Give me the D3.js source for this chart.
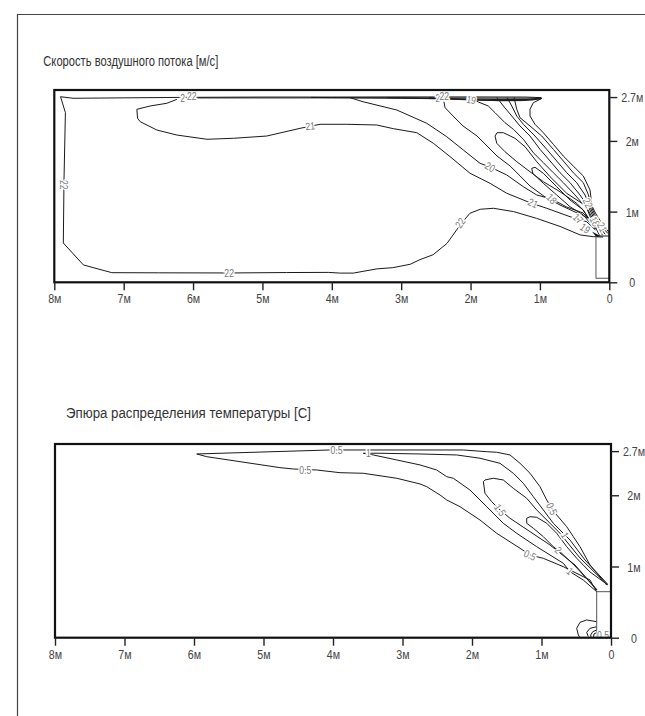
<!DOCTYPE html>
<html><head><meta charset="utf-8">
<script src="https://cdn.jsdelivr.net/npm/d3@7"></script>
<style>
html,body{margin:0;padding:0;background:#fff;}
svg{display:block;}
</style></head>
<body>
<script>
// ---------- axis data ----------
const xTicks = [8,7,6,5,4,3,2,1,0];
const xTickLabels = ["8м","7м","6м","5м","4м","3м","2м","1м","0"];
const yTicks = [0,1,2,2.62];
const yTickLabels = ["0","1м","2м","2.7м"];
const titles = ["Скорость воздушного потока [м/с]","Эпюра распределения температуры [С]"];

// ---------- air velocity contours [x m from wall, y m] ----------
const vel22 = [[0.09,0.64],[0.23,0.645],[0.42,0.67],[0.71,0.79],[1.05,0.905],[1.38,1.0],[1.67,1.047],[1.86,1.033],[2.01,0.976],[2.15,0.81],[2.34,0.55],[2.54,0.39],[2.73,0.32],[2.87,0.255],[3.12,0.207],[3.35,0.19],[3.69,0.13],[3.88,0.13],[4.05,0.14],[4.65,0.138],[5.48,0.132],[6.5,0.134],[7.17,0.136],[7.58,0.245],[7.87,0.556],[7.86,1.45],[7.84,2.40],[7.91,2.625],[7.73,2.603],[6.10,2.616],[5.0,2.62],[4.0,2.62],[3.0,2.622],[2.0,2.622],[1.2,2.62],[0.98,2.612]];
const vel21 = [[6.233,2.588],[6.378,2.532],[6.618,2.494],[6.81,2.447],[6.80,2.32],[6.762,2.272],[6.522,2.154],[6.233,2.083],[5.80,2.023],[5.418,2.037],[4.937,2.069],[4.457,2.178],[4.169,2.235],[3.784,2.235],[3.352,2.225],[3.112,2.173],[2.775,2.116],[2.536,1.966],[2.295,1.777],[2.007,1.542],[1.719,1.40],[1.478,1.259],[1.143,1.126],[0.902,1.047],[0.566,0.928],[0.326,0.857],[0.2,0.74]];
const vel20 = [[3.736,2.611],[3.549,2.554],[3.063,2.437],[2.631,2.249],[2.343,2.059],[2.104,1.871],[1.863,1.683],[1.719,1.631],[1.478,1.518],[1.239,1.352],[1.046,1.235],[0.83,1.178],[0.614,1.065],[0.379,0.98],[0.26,0.86],[0.2,0.75]];
const vel19a = [[2.396,2.614],[2.367,2.47],[2.252,2.352],[2.108,2.211],[1.906,2.069],[1.762,1.928],[1.618,1.786],[1.43,1.645],[1.286,1.504],[1.143,1.362],[0.927,1.207],[0.71,1.093],[0.494,0.994],[0.307,0.909],[0.2,0.76]];
const vel19 = [[1.978,2.592],[1.888,2.55],[1.744,2.494],[1.647,2.399],[1.503,2.257],[1.383,2.164],[1.239,2.023],[1.095,1.833],[0.951,1.692],[0.807,1.55],[0.663,1.409],[0.494,1.235],[0.307,1.023],[0.24,0.90],[0.18,0.74],[0.14,0.665]];
const vel18 = [[0.21,0.77],[0.379,1.023],[0.47,1.117],[0.71,1.281],[0.951,1.423],[1.143,1.564],[1.334,1.706],[1.503,1.847],[1.622,1.966],[1.647,2.069],[1.618,2.116],[1.527,2.116],[1.359,2.037],[1.215,1.918],[1.046,1.706],[0.854,1.494],[0.614,1.259],[0.336,1.079],[0.22,0.79]];
const vel17 = [[0.21,0.76],[0.375,0.952],[0.566,1.069],[0.758,1.235],[0.951,1.40],[1.104,1.542],[1.118,1.612],[1.071,1.627],[0.951,1.542],[0.758,1.352],[0.566,1.164],[0.375,1.023],[0.22,0.78]];
const velFanA = [[1.622,2.614],[1.527,2.494],[1.406,2.352],[1.287,2.211],[1.143,2.069],[0.999,1.881],[0.854,1.716],[0.71,1.55],[0.566,1.409],[0.422,1.235],[0.293,1.051],[0.23,0.92],[0.16,0.76],[0.10,0.67]];
const velFanB = [[1.474,2.614],[1.406,2.494],[1.334,2.352],[1.239,2.235],[1.071,2.069],[0.902,1.881],[0.758,1.716],[0.614,1.55],[0.47,1.409],[0.35,1.235],[0.278,1.065],[0.22,0.94],[0.14,0.78],[0.06,0.68]];
const velFanC = [[1.373,2.614],[1.334,2.447],[1.287,2.328],[1.143,2.211],[0.974,2.069],[0.807,1.881],[0.663,1.716],[0.519,1.55],[0.375,1.409],[0.30,1.235],[0.264,1.079],[0.21,0.96],[0.12,0.80],[0.02,0.69]];
const velFanD = [[0.974,2.60],[1.095,2.54],[1.143,2.447],[1.143,2.352],[1.071,2.235],[0.951,2.116],[0.807,1.952],[0.663,1.786],[0.519,1.645],[0.375,1.504],[0.278,1.306],[0.249,1.079],[0.20,0.98],[0.10,0.82],[0.0,0.70]];
const velBand0 = [[6.0,2.608],[4.5,2.608],[3.0,2.61],[2.0,2.606],[1.2,2.604],[0.98,2.606]];
const velBand1 = [[4.3,2.615],[3.0,2.603],[2.2,2.593],[1.6,2.585],[1.2,2.585],[0.98,2.605]];
const velBand2 = [[3.2,2.612],[2.4,2.595],[1.9,2.575],[1.4,2.572],[1.1,2.58],[0.98,2.6]];
const velBand3 = [[2.6,2.61],[2.0,2.585],[1.6,2.568],[1.25,2.57],[0.98,2.598]];
const velOutlet = [[0.192,0.655],[0.192,0.057],[0,0.057]];
const velOutletTop = [[0.192,0.655],[0,0.655]];
const velWedge = [[0.25,0.72],[0.13,0.655],[0.19,0.645]];
// labels: [x, y, text, angle]
const velLabels = [[5.48,0.132,"22",0],[7.86,1.38,"22",90],[2.15,0.84,"22",-55],[6.15,2.60,"2",0],[6.02,2.625,"22",0],
  [4.31,2.21,"21",-5],[1.72,1.63,"20",30],[1.10,1.12,"21",25],[0.83,1.18,"18",45],[2.47,2.60,"2",0],[2.38,2.625,"22",0],
  [1.99,2.58,"19",10],[0.31,1.12,"22",65],[0.21,0.86,"18",65],[0.105,0.78,"21",65],[0.45,0.90,"17",45],[0.35,0.76,"19",35]];

// ---------- temperature contours ----------
const t05 = [[0.206,0.646],[0.302,0.810],[0.686,0.997],[0.974,1.115],[1.165,1.161],[1.309,1.256],[1.645,1.466],[1.885,1.653],[2.173,1.840],[2.364,1.934],[2.460,2.004],[2.652,2.121],[2.748,2.159],[3.083,2.239],[3.564,2.309],[3.899,2.317],[4.235,2.355],[4.571,2.369],[4.763,2.388],[5.338,2.472],[5.817,2.542],[5.961,2.580],[4.043,2.636],[3.827,2.636],[2.125,2.636],[1.788,2.612],[1.645,2.604],[1.453,2.566],[1.309,2.449],[1.165,2.309],[1.022,2.121],[0.925,1.934],[0.853,1.817],[0.781,1.723],[0.637,1.559],[0.542,1.419],[0.446,1.278],[0.302,1.021],[0.062,0.740]];
const t1 = [[0.206,0.646],[0.399,0.810],[0.590,0.927],[0.686,1.045],[1.069,1.278],[1.357,1.466],[1.55,1.607],[1.788,1.840],[2.029,2.074],[2.269,2.239],[2.364,2.261],[2.508,2.355],[2.748,2.426],[3.083,2.496],[3.420,2.566],[3.564,2.590],[3.324,2.59],[2.748,2.580],[2.220,2.566],[1.885,2.520],[1.597,2.449],[1.406,2.309],[1.262,2.169],[1.118,1.980],[0.974,1.794],[0.830,1.607],[0.662,1.442],[0.590,1.372],[0.374,1.091],[0.05,0.754]];
const t15 = [[0.201,0.67],[0.518,1.021],[0.878,1.302],[1.165,1.489],[1.309,1.583],[1.453,1.677],[1.597,1.794],[1.717,1.910],[1.813,2.028],[1.837,2.191],[1.813,2.215],[1.694,2.239],[1.55,2.215],[1.406,2.098],[1.213,1.958],[1.069,1.794],[0.878,1.607],[0.734,1.466],[0.446,1.119],[0.058,0.747]];
const t2 = [[0.201,0.67],[0.518,1.007],[0.734,1.208],[0.830,1.278],[0.974,1.419],[1.118,1.537],[1.213,1.607],[1.213,1.677],[1.165,1.699],[1.069,1.691],[0.925,1.607],[0.781,1.466],[0.637,1.278],[0.493,1.115],[0.302,0.923],[0.043,0.740]];
const tLoop1 = [[0.206,0.225],[0.35,0.249],[0.446,0.216],[0.494,0.132],[0.47,0.038],[0.446,0.0]];
const tLoop2 = [[0.206,0.154],[0.302,0.132],[0.35,0.076],[0.327,0.017]];
const tLoop3 = [[0.206,0.108],[0.263,0.084],[0.292,0.038],[0.288,0.003]];
const tLoop4 = [[0.206,0.073],[0.245,0.052],[0.252,0.003]];
const tOutlet = [[0.206,0.01],[0.206,0.646],[0,0.646]];
const tLabels = [[3.95,2.63,"0.5",0],[3.49,2.585,"1",0],[4.40,2.355,"0.5",0],[1.597,1.794,"1.5",55],[0.853,1.81,"0.5",65],
  [0.662,1.44,"1",60],[1.165,1.16,"0.5",25],[0.76,1.23,"2",45],[0.59,0.935,"1",40],[0.115,0.04,"0.5",0]];

const W = 645, H = 716;
const svg = d3.select("body").append("svg").attr("width",W).attr("height",H);
const FONT = "'Liberation Sans','Arial',sans-serif";
const NARROW = 0.82;

// page border
svg.append("path").attr("d","M17.5,716 V14.5 H645").attr("fill","none").attr("stroke","#444").attr("stroke-width",1.2);

function txt(g, x, y, s, size, anchor, color, angle){
  return g.append("text")
    .attr("transform",`translate(${x},${y}) rotate(${angle||0}) scale(${NARROW},1)`)
    .attr("font-family",FONT).attr("font-size",size).attr("text-anchor",anchor).attr("fill",color).text(s);
}

function chart(cfg){
  const x = d3.scaleLinear().domain([8,0]).range([cfg.x0,cfg.x1]);
  const y = d3.scaleLinear().domain([0,2.72]).range([cfg.y0,cfg.y1]);
  const g = svg.append("g");
  g.append("text").attr("x",cfg.tx).attr("y",cfg.ty).attr("font-family",FONT).attr("font-size",14)
    .attr("fill","#333").attr("textLength",cfg.tw).attr("lengthAdjust","spacingAndGlyphs").text(cfg.title);
  const line = d3.line().x(d=>x(d[0])).y(d=>y(d[1]));
  const cg = g.append("g").attr("fill","none").attr("stroke","#1a1a1a").attr("stroke-width",1).attr("stroke-linejoin","round");
  cfg.lines.forEach(l=>cg.append("path").attr("d",line(l)));
  if(cfg.fills) cfg.fills.forEach(l=>g.append("path").attr("d",line(l)+"Z").attr("fill","#111"));
  if(cfg.grey) cfg.grey.forEach(l=>g.append("path").attr("d",line(l)).attr("fill","none").attr("stroke","#555").attr("stroke-width",1));
  const lg = g.append("g");
  cfg.labels.forEach(L=>{
    txt(lg, x(L[0]), y(L[1]), L[2], 10.5, "middle", "#777", L[3])
      .attr("dy","0.35em").attr("stroke","#fff").attr("stroke-width",3).attr("paint-order","stroke");
  });
  g.append("rect").attr("x",cfg.x0).attr("y",cfg.y1).attr("width",cfg.x1-cfg.x0).attr("height",cfg.y0-cfg.y1)
    .attr("fill","none").attr("stroke","#111").attr("stroke-width",2.2);
  const ax = g.append("g").attr("transform",`translate(0,${cfg.y0})`)
    .call(d3.axisBottom(x).tickValues(xTicks).tickFormat((d,i)=>xTickLabels[i]).tickSize(8).tickPadding(0));
  ax.select(".domain").remove();
  ax.selectAll(".tick line").attr("stroke","#222").attr("stroke-width",1.4);
  ax.selectAll(".tick text").remove();
  ax.selectAll(".tick").each(function(d,i){ txt(d3.select(this), 0, cfg.xl, xTickLabels[i], 13, "middle", "#444", 0); });
  const ay = g.append("g").attr("transform",`translate(${cfg.x1},0)`)
    .call(d3.axisRight(y).tickValues(yTicks).tickFormat((d,i)=>yTickLabels[i]).tickSize(8));
  ay.select(".domain").remove();
  ay.selectAll(".tick line").attr("stroke","#222").attr("stroke-width",1.4);
  ay.selectAll(".tick text").remove();
  ay.selectAll(".tick").each(function(d,i){ txt(d3.select(this), 23, 0, yTickLabels[i], 13, "middle", "#444", 0).attr("dy","0.35em"); });
}

chart({title:titles[0], tx:43.3, ty:66, tw:175, x0:54.3, x1:609.3, y0:282.3, y1:90, xl:21,
  lines:[vel22,vel21,vel20,vel19a,vel19,vel18,vel17,velFanA,velFanB,velFanC,velFanD,velBand0,velBand1,velBand2,velBand3,velOutletTop],
  grey:[velOutlet], fills:[velWedge], labels:velLabels});
chart({title:titles[1], tx:66, ty:418, tw:245, x0:55, x1:611, y0:637.7, y1:444, xl:21,
  lines:[t05,t1,t15,t2,tLoop1,tLoop2,tLoop3,tLoop4],
  grey:[tOutlet], labels:tLabels});
</script>
</body></html>
